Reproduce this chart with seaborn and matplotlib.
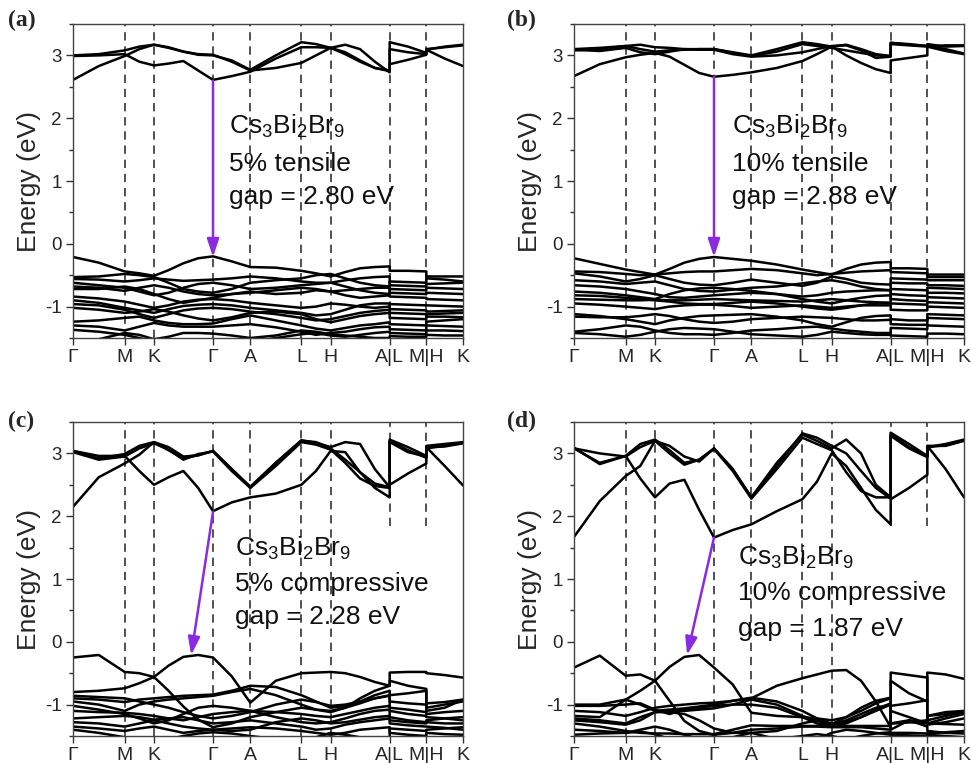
import numpy as np
import pandas as pd
import matplotlib
matplotlib.use("Agg")
import matplotlib.pyplot as plt
import seaborn as sns

# ---------------- data ----------------
# k-path node positions (fraction of path length) for every band vertex
KX = [0.0, 0.066, 0.1325, 0.17, 0.2077, 0.245, 0.283, 0.321, 0.359, 0.407, 0.4547,
      0.52, 0.5855, 0.623, 0.6607, 0.698, 0.736, 0.774, 0.812,
      0.812, 0.859, 0.906,
      0.906, 0.953, 1.0]
tick_pos = [0.0, 0.1325, 0.2077, 0.359, 0.4547, 0.5855, 0.6607, 0.812, 0.906, 1.0]
tick_lab = ["Γ", "M", "K", "Γ", "A", "L", "H", "A|L", "M|H", "K"]

# (a) 5% tensile
a_bands = {
    "c1": [2.61, 2.83, 2.99, 3.10, 3.17, 3.12, 3.06, 3.02, 3.01, 2.90, 2.76, 2.80, 2.88, 3.00, 3.12, 3.17, 3.10, 2.90, 2.73, 2.86, 2.93, 3.01, 3.09, 3.14, 3.17],
    "c2": [2.99, 3.00, 3.02, 2.90, 2.84, 2.87, 2.91, 2.76, 2.61, 2.67, 2.74, 2.95, 3.13, 3.13, 3.12, 3.02, 2.90, 2.80, 2.75, 3.10, 3.05, 3.02, 3.09, 2.95, 2.83],
    "c3": [3.00, 3.02, 3.08, 3.14, 3.17, 3.13, 3.06, 3.01, 3.00, 2.92, 2.77, 3.00, 3.21, 3.18, 3.12, 3.05, 2.92, 2.80, 2.76, 3.21, 3.14, 3.04, 3.10, 3.13, 3.16],
    "v1": [-0.21, -0.30, -0.44, -0.47, -0.51, -0.42, -0.31, -0.23, -0.20, -0.28, -0.37, -0.38, -0.43, -0.47, -0.52, -0.45, -0.39, -0.37, -0.36, -0.43, -0.43, -0.44, -0.52, -0.52, -0.52],
    "v2": [-0.53, -0.52, -0.48, -0.50, -0.53, -0.62, -0.72, -0.76, -0.78, -0.72, -0.62, -0.58, -0.55, -0.50, -0.48, -0.55, -0.62, -0.66, -0.68, -0.60, -0.61, -0.62, -0.55, -0.57, -0.60],
    "v3": [-0.56, -0.57, -0.60, -0.58, -0.55, -0.57, -0.59, -0.58, -0.57, -0.55, -0.52, -0.55, -0.60, -0.62, -0.62, -0.58, -0.55, -0.53, -0.52, -0.66, -0.67, -0.68, -0.64, -0.63, -0.62],
    "v4": [-0.62, -0.66, -0.70, -0.76, -0.82, -0.78, -0.70, -0.64, -0.62, -0.66, -0.72, -0.70, -0.66, -0.64, -0.62, -0.68, -0.74, -0.78, -0.80, -0.72, -0.73, -0.74, -0.70, -0.71, -0.72],
    "v5": [-0.72, -0.72, -0.68, -0.72, -0.80, -0.88, -0.94, -0.90, -0.86, -0.80, -0.76, -0.80, -0.78, -0.74, -0.76, -0.82, -0.86, -0.84, -0.82, -0.84, -0.85, -0.86, -0.88, -0.89, -0.90],
    "v6": [-0.84, -0.87, -0.92, -0.97, -1.02, -0.98, -0.92, -0.89, -0.88, -0.90, -0.94, -0.98, -1.02, -1.00, -0.95, -0.97, -1.00, -1.02, -1.00, -0.96, -0.97, -0.98, -0.98, -0.99, -1.00],
    "v7": [-0.90, -0.94, -1.02, -1.06, -1.10, -1.04, -0.99, -0.97, -0.96, -0.98, -1.02, -1.06, -1.10, -1.14, -1.12, -1.05, -0.98, -0.95, -0.95, -1.04, -1.05, -1.06, -1.08, -1.07, -1.06],
    "v8": [-1.02, -1.05, -1.10, -1.08, -1.04, -1.08, -1.14, -1.19, -1.22, -1.17, -1.10, -1.08, -1.12, -1.20, -1.25, -1.20, -1.15, -1.12, -1.10, -1.10, -1.11, -1.12, -1.16, -1.16, -1.17],
    "v9": [-1.24, -1.22, -1.18, -1.16, -1.22, -1.26, -1.28, -1.28, -1.27, -1.20, -1.14, -1.22, -1.30, -1.35, -1.38, -1.34, -1.30, -1.28, -1.25, -1.28, -1.29, -1.30, -1.24, -1.22, -1.20],
    "v10": [-1.30, -1.32, -1.38, -1.32, -1.26, -1.30, -1.32, -1.32, -1.32, -1.30, -1.28, -1.33, -1.40, -1.45, -1.42, -1.40, -1.36, -1.33, -1.32, -1.36, -1.37, -1.38, -1.30, -1.31, -1.32],
    "v11": [-1.37, -1.40, -1.45, -1.50, -1.56, -1.56, -1.56, -1.56, -1.56, -1.56, -1.56, -1.50, -1.44, -1.42, -1.46, -1.48, -1.45, -1.42, -1.40, -1.42, -1.43, -1.44, -1.38, -1.38, -1.39],
    "v12": [-1.56, -1.52, -1.42, -1.45, -1.52, -1.48, -1.42, -1.42, -1.43, -1.46, -1.50, -1.46, -1.38, -1.40, -1.44, -1.46, -1.48, -1.50, -1.50, -1.47, -1.48, -1.48, -1.45, -1.46, -1.46],
    "v13": [-0.68, -0.70, -0.75, -0.70, -0.66, -0.70, -0.76, -0.80, -0.82, -0.80, -0.78, -0.74, -0.70, -0.72, -0.76, -0.74, -0.72, -0.70, -0.70, -0.78, -0.79, -0.80, -0.78, -0.79, -0.80],
    "v14": [-0.96, -0.98, -1.05, -1.12, -1.18, -1.12, -1.06, -1.03, -1.02, -1.04, -1.08, -1.12, -1.18, -1.22, -1.20, -1.15, -1.10, -1.07, -1.05, -1.18, -1.19, -1.20, -1.12, -1.11, -1.10],
}

# (b) 10% tensile
b_bands = {
    "c1": [2.67, 2.86, 2.97, 3.01, 3.04, 2.98, 2.85, 2.72, 2.66, 2.69, 2.73, 2.80, 2.91, 3.02, 3.14, 3.00, 2.88, 2.78, 2.72, 2.92, 2.96, 3.00, 3.14, 3.07, 3.02],
    "c2": [3.08, 3.10, 3.15, 3.10, 3.06, 3.08, 3.09, 3.10, 3.10, 3.04, 2.99, 3.06, 3.18, 3.15, 3.12, 3.08, 3.04, 3.00, 2.99, 3.20, 3.18, 3.15, 3.14, 3.16, 3.16],
    "c3": [3.10, 3.12, 3.15, 3.17, 3.13, 3.12, 3.10, 3.10, 3.10, 3.05, 3.00, 3.10, 3.21, 3.18, 3.14, 3.17, 3.10, 3.02, 2.99, 3.20, 3.17, 3.15, 3.18, 3.14, 3.15],
    "c4": [3.09, 3.07, 3.12, 3.05, 3.02, 3.06, 3.10, 3.09, 3.09, 3.02, 2.98, 3.00, 3.05, 3.10, 3.15, 3.16, 3.08, 2.96, 2.98, 3.18, 3.16, 3.14, 3.16, 3.10, 3.03],
    "v1": [-0.23, -0.32, -0.41, -0.45, -0.49, -0.40, -0.30, -0.24, -0.21, -0.24, -0.27, -0.33, -0.41, -0.45, -0.49, -0.40, -0.33, -0.30, -0.29, -0.39, -0.39, -0.40, -0.49, -0.49, -0.49],
    "v2": [-0.44, -0.45, -0.48, -0.50, -0.49, -0.47, -0.45, -0.44, -0.44, -0.42, -0.40, -0.42, -0.47, -0.50, -0.48, -0.46, -0.44, -0.43, -0.42, -0.45, -0.46, -0.47, -0.53, -0.53, -0.53],
    "v3": [-0.47, -0.52, -0.60, -0.56, -0.50, -0.56, -0.62, -0.65, -0.66, -0.62, -0.57, -0.62, -0.67, -0.62, -0.52, -0.56, -0.62, -0.64, -0.65, -0.55, -0.56, -0.57, -0.58, -0.58, -0.58],
    "v4": [-0.58, -0.60, -0.64, -0.62, -0.60, -0.66, -0.72, -0.75, -0.76, -0.73, -0.70, -0.68, -0.63, -0.60, -0.58, -0.62, -0.68, -0.72, -0.74, -0.62, -0.63, -0.63, -0.66, -0.66, -0.67],
    "v5": [-0.66, -0.68, -0.72, -0.76, -0.80, -0.85, -0.86, -0.84, -0.82, -0.80, -0.78, -0.80, -0.84, -0.82, -0.78, -0.76, -0.75, -0.74, -0.74, -0.80, -0.82, -0.83, -0.70, -0.71, -0.72],
    "v6": [-0.76, -0.78, -0.82, -0.85, -0.88, -0.80, -0.74, -0.71, -0.70, -0.72, -0.75, -0.80, -0.88, -0.92, -0.95, -0.90, -0.86, -0.83, -0.82, -0.88, -0.90, -0.91, -0.85, -0.86, -0.87],
    "v7": [-0.88, -0.89, -0.90, -0.90, -0.89, -0.90, -0.90, -0.89, -0.88, -0.89, -0.90, -0.91, -0.92, -0.90, -0.88, -0.90, -0.92, -0.93, -0.94, -0.95, -0.96, -0.97, -0.93, -0.94, -0.95],
    "v8": [-0.95, -0.97, -1.00, -1.02, -1.04, -1.00, -0.98, -0.97, -0.97, -0.99, -1.02, -1.00, -0.98, -1.00, -1.02, -1.00, -0.98, -0.98, -0.98, -1.05, -1.06, -1.06, -1.00, -1.01, -1.02],
    "v9": [-1.12, -1.15, -1.20, -1.24, -1.28, -1.22, -1.18, -1.15, -1.14, -1.13, -1.12, -1.16, -1.22, -1.28, -1.32, -1.25, -1.18, -1.15, -1.14, -1.20, -1.22, -1.22, -1.12, -1.13, -1.14],
    "v10": [-1.16, -1.17, -1.17, -1.15, -1.12, -1.15, -1.20, -1.24, -1.26, -1.24, -1.20, -1.18, -1.16, -1.17, -1.18, -1.20, -1.22, -1.22, -1.21, -1.28, -1.29, -1.29, -1.18, -1.19, -1.20],
    "v11": [-1.40, -1.36, -1.30, -1.32, -1.38, -1.42, -1.44, -1.44, -1.45, -1.42, -1.38, -1.36, -1.33, -1.32, -1.35, -1.38, -1.40, -1.42, -1.42, -1.34, -1.35, -1.36, -1.30, -1.31, -1.32],
    "v12": [-1.42, -1.44, -1.48, -1.45, -1.40, -1.36, -1.34, -1.35, -1.36, -1.40, -1.44, -1.46, -1.48, -1.45, -1.40, -1.42, -1.44, -1.45, -1.45, -1.46, -1.47, -1.48, -1.43, -1.43, -1.44],
    "v13": [-0.82, -0.83, -0.86, -0.88, -0.90, -0.92, -0.95, -0.96, -0.96, -0.94, -0.92, -0.95, -1.00, -1.03, -1.05, -1.02, -0.98, -0.95, -0.94, -0.72, -0.73, -0.74, -0.78, -0.78, -0.79],
}

# (c) 5% compressive
c_bands = {
    "c1": [2.15, 2.62, 2.84, 2.98, 3.18, 3.10, 2.95, 2.97, 3.04, 2.75, 2.47, 2.85, 3.20, 3.18, 3.08, 2.90, 2.70, 2.52, 2.46, 2.50, 2.68, 2.84, 3.12, 3.15, 3.18],
    "c2": [3.04, 2.96, 2.96, 2.72, 2.50, 2.62, 2.72, 2.45, 2.08, 2.22, 2.30, 2.36, 2.50, 2.72, 3.04, 3.02, 2.70, 2.45, 2.30, 3.22, 3.10, 2.96, 3.10, 2.80, 2.49],
    "c3": [3.04, 2.92, 2.99, 3.12, 3.18, 3.05, 2.92, 2.97, 3.04, 2.75, 2.46, 2.85, 3.21, 3.17, 3.10, 3.18, 3.15, 2.75, 2.46, 3.20, 3.05, 2.93, 3.08, 3.12, 3.17],
    "c4": [3.02, 2.90, 2.95, 3.08, 3.16, 3.06, 2.90, 2.99, 3.03, 2.72, 2.45, 2.80, 3.18, 3.14, 3.06, 2.85, 2.60, 2.48, 2.45, 3.18, 3.02, 2.95, 3.10, 3.11, 3.16],
    "v1": [-0.25, -0.21, -0.48, -0.50, -0.56, -0.78, -1.03, -1.24, -1.36, -1.30, -1.20, -1.12, -1.05, -1.08, -1.12, -1.05, -0.90, -0.78, -0.70, -0.62, -0.70, -0.75, -1.10, -1.05, -0.92],
    "v2": [-0.80, -0.78, -0.74, -0.66, -0.56, -0.38, -0.24, -0.21, -0.25, -0.55, -0.97, -0.62, -0.50, -0.49, -0.48, -0.50, -0.56, -0.64, -0.70, -0.49, -0.48, -0.48, -0.50, -0.53, -0.57],
    "v3": [-0.90, -0.92, -0.96, -0.92, -0.90, -0.88, -0.86, -0.85, -0.84, -0.78, -0.70, -0.72, -0.85, -0.95, -1.05, -1.02, -0.95, -0.85, -0.78, -0.85, -0.82, -0.78, -1.05, -1.00, -0.95],
    "v4": [-0.95, -1.00, -1.10, -1.00, -0.95, -0.92, -0.90, -0.88, -0.86, -0.80, -0.75, -0.85, -1.00, -1.08, -1.10, -1.05, -0.98, -0.90, -0.85, -1.05, -1.08, -1.12, -1.15, -1.12, -1.10],
    "v5": [-1.02, -1.08, -1.15, -1.22, -1.30, -1.25, -1.15, -1.05, -1.02, -1.05, -1.10, -1.12, -1.15, -1.18, -1.20, -1.15, -1.10, -1.05, -1.02, -1.10, -1.15, -1.18, -1.20, -1.22, -1.25],
    "v6": [-1.10, -1.12, -1.13, -1.15, -1.18, -1.22, -1.25, -1.20, -1.15, -1.12, -1.10, -1.20, -1.28, -1.30, -1.28, -1.22, -1.15, -1.10, -1.08, -1.20, -1.25, -1.28, -1.28, -1.30, -1.30],
    "v7": [-1.22, -1.20, -1.18, -1.20, -1.24, -1.22, -1.20, -1.25, -1.30, -1.28, -1.25, -1.30, -1.35, -1.40, -1.38, -1.32, -1.28, -1.25, -1.22, -1.30, -1.33, -1.35, -1.35, -1.37, -1.40],
    "v8": [-1.35, -1.38, -1.42, -1.38, -1.35, -1.40, -1.45, -1.42, -1.40, -1.38, -1.36, -1.38, -1.42, -1.45, -1.48, -1.45, -1.40, -1.38, -1.36, -1.45, -1.48, -1.50, -1.45, -1.47, -1.48],
    "v9": [-1.40, -1.45, -1.52, -1.55, -1.55, -1.55, -1.50, -1.46, -1.44, -1.46, -1.50, -1.55, -1.55, -1.52, -1.45, -1.48, -1.52, -1.55, -1.55, -1.38, -1.40, -1.42, -1.40, -1.38, -1.36],
    "v10": [-0.86, -0.88, -0.90, -0.95, -1.00, -1.05, -1.12, -1.18, -1.22, -1.18, -1.12, -1.00, -0.92, -0.96, -1.02, -1.00, -0.95, -0.90, -0.86, -0.95, -0.98, -1.00, -0.98, -0.96, -0.92],
    "v11": [-1.28, -1.30, -1.35, -1.30, -1.25, -1.30, -1.35, -1.38, -1.40, -1.42, -1.40, -1.28, -1.22, -1.25, -1.30, -1.28, -1.24, -1.20, -1.18, -1.25, -1.28, -1.30, -1.25, -1.22, -1.20],
}

# (d) 10% compressive
d_bands = {
    "c1": [1.67, 2.24, 2.64, 2.80, 3.20, 3.12, 2.95, 2.87, 3.08, 2.75, 2.30, 2.80, 3.32, 3.25, 3.12, 3.00, 2.72, 2.45, 2.28, 3.33, 3.15, 2.96, 3.10, 3.15, 3.22],
    "c2": [3.08, 2.85, 2.96, 2.60, 2.30, 2.52, 2.58, 2.10, 1.66, 1.78, 1.87, 2.08, 2.27, 2.55, 3.00, 2.80, 2.45, 2.10, 1.87, 2.27, 2.45, 2.66, 3.12, 2.75, 2.30],
    "c3": [3.09, 2.83, 2.96, 3.15, 3.22, 3.05, 2.85, 2.90, 3.08, 2.75, 2.30, 2.85, 3.30, 3.20, 3.08, 3.22, 3.00, 2.50, 2.30, 3.30, 3.10, 2.95, 3.12, 3.12, 3.20],
    "c4": [3.08, 3.00, 2.95, 3.10, 3.20, 3.00, 2.82, 2.90, 3.07, 2.72, 2.28, 2.75, 3.25, 3.15, 3.05, 2.70, 2.40, 2.30, 2.30, 3.28, 3.08, 2.94, 3.10, 3.13, 3.21],
    "v1": [-0.41, -0.22, -0.54, -0.52, -0.62, -0.94, -1.26, -1.42, -1.48, -1.45, -1.40, -1.38, -1.35, -1.35, -1.36, -1.36, -1.36, -1.38, -1.40, -1.30, -1.25, -1.28, -1.30, -1.31, -1.32],
    "v2": [-1.00, -1.00, -0.92, -0.78, -0.62, -0.40, -0.24, -0.21, -0.41, -0.68, -1.13, -1.18, -1.20, -1.22, -1.25, -1.20, -1.10, -0.98, -0.90, -0.62, -0.82, -0.95, -0.49, -0.52, -0.59],
    "v3": [-1.10, -1.12, -1.18, -1.12, -1.05, -1.02, -1.00, -0.98, -0.97, -0.94, -0.90, -0.70, -0.58, -0.52, -0.46, -0.45, -0.62, -0.95, -1.36, -0.49, -0.53, -0.57, -1.25, -1.18, -1.12],
    "v4": [-1.18, -1.20, -0.92, -1.00, -1.10, -1.08, -1.06, -1.03, -1.00, -0.94, -0.89, -0.95, -1.10, -1.22, -1.31, -1.20, -1.05, -0.94, -0.89, -1.02, -0.98, -0.93, -1.30, -1.22, -1.15],
    "v5": [-1.25, -1.28, -1.32, -1.25, -1.12, -1.10, -1.10, -1.08, -1.06, -1.00, -0.92, -1.00, -1.18, -1.26, -1.32, -1.25, -1.15, -1.05, -1.00, -1.30, -1.28, -1.30, -1.32, -1.28, -1.22],
    "v6": [-1.30, -1.35, -1.42, -1.45, -1.46, -1.46, -1.47, -1.47, -1.47, -1.40, -1.33, -1.34, -1.34, -1.34, -1.34, -1.34, -1.34, -1.34, -1.34, -1.40, -1.25, -1.35, -1.42, -1.45, -1.46],
    "v7": [-1.40, -1.42, -1.45, -1.40, -1.35, -1.40, -1.48, -1.55, -1.58, -1.52, -1.45, -1.55, -1.60, -1.55, -1.45, -1.40, -1.42, -1.45, -1.48, -1.45, -1.45, -1.46, -1.48, -1.50, -1.52],
    "v8": [-1.48, -1.46, -1.45, -1.43, -1.47, -1.55, -1.60, -1.55, -1.50, -1.60, -1.62, -1.55, -1.50, -1.47, -1.50, -1.55, -1.50, -1.46, -1.44, -1.48, -1.49, -1.50, -1.46, -1.44, -1.42],
    "v9": [-1.22, -1.25, -1.30, -1.20, -1.12, -1.12, -1.15, -1.25, -1.38, -1.45, -1.45, -1.42, -1.30, -1.25, -1.30, -1.28, -1.20, -1.10, -1.00, -1.10, -1.20, -1.30, -1.18, -1.12, -1.10],
    "v10": [-1.02, -1.02, -1.00, -0.98, -1.08, -1.15, -1.08, -1.05, -1.02, -1.00, -1.00, -1.05, -1.20, -1.30, -1.34, -1.30, -1.20, -1.08, -0.98, -1.30, -1.28, -1.25, -1.18, -1.15, -1.12],
}

labels = ["(a)", "(b)", "(c)", "(d)"]
strain = ["5% tensile", "10% tensile", "5% compressive", "10% compressive"]
gaps = ["gap = 2.80 eV", "gap = 2.88 eV", "gap = 2.28 eV", "gap = 1.87 eV"]
# arrow (k, E) from conduction-band minimum to valence-band maximum
cbm = [(0.359, 2.60), (0.359, 2.66), (0.359, 2.07), (0.359, 1.66)]
vbm = [(0.359, -0.21), (0.359, -0.21), (0.303, -0.21), (0.290, -0.21)]
text_k = [0.40, 0.404, 0.415, 0.421]
text_E = [[1.87, 1.27, 0.74], [1.87, 1.27, 0.74], [1.48, 0.92, 0.39], [1.34, 0.77, 0.21]]

# ---------------- style ----------------
sns.set_theme(style="ticks")
plt.rcParams["font.family"] = ["Liberation Sans", "DejaVu Sans"]
plt.rcParams["mathtext.default"] = "regular"
plt.rcParams["axes.unicode_minus"] = False

W, H = 971, 763
fig = plt.figure(figsize=(W / 100, H / 100), dpi=100)

axes_px = [(73, 24), (574, 24), (73, 422), (574, 422)]
ax_w, ax_h = 390, 314
label_px = [(8, 20), (507, 20), (8, 421), (507, 421)]
purple = "#8a2be2"

for i, bands in enumerate([a_bands, b_bands, c_bands, d_bands]):
    lx, ty = axes_px[i]
    ax = fig.add_axes([lx / W, 1 - (ty + ax_h) / H, ax_w / W, ax_h / H])

    rows = []
    for name, vals in bands.items():
        for kx, e in zip(KX, vals):
            rows.append((name, kx, e))
    df = pd.DataFrame(rows, columns=["band", "k", "E"])

    # dashed high-symmetry lines
    for j, xp in enumerate(tick_pos[1:-1]):
        lbl = tick_lab[1:-1][j]
        if i >= 2 and lbl in ("A|L", "M|H"):
            ax.vlines(xp, 1.85, 3.5, colors="#333333", linestyles=(0, (5, 3.5)), lw=1.2, zorder=1)
        else:
            ax.axvline(xp, color="#333333", ls=(0, (5, 3.5)), lw=1.2, zorder=1)

    sns.lineplot(data=df, x="k", y="E", units="band", estimator=None, sort=False,
                 color="black", lw=1.8, legend=False, ax=ax, zorder=2)

    ax.annotate("", xy=vbm[i], xytext=cbm[i],
                arrowprops=dict(arrowstyle="-|>,head_length=0.6,head_width=0.2",
                                color=purple, lw=1.8, mutation_scale=18,
                                shrinkA=0, shrinkB=0), zorder=3)
    lines = [r"Cs$_3$Bi$_2$Br$_9$", strain[i], gaps[i]]
    for t, ey in zip(lines, text_E[i]):
        ax.text(text_k[i], ey, t, fontsize=19, ha="left", va="center", color="#111111", zorder=4)

    ax.set_xlim(0, 1)
    ax.set_ylim(-1.5, 3.5)
    ax.set_xticks(tick_pos)
    ax.set_xticklabels(tick_lab, fontsize=14)
    ax.set_yticks([-1, 0, 1, 2, 3])
    ax.set_yticklabels(["-1", "0", "1", "2", "3"], fontsize=13.5)
    ax.set_yticks([-1.5, -0.5, 0.5, 1.5, 2.5, 3.5], minor=True)
    ax.tick_params(axis="both", which="major", direction="out", length=5, width=1, color="#333333", pad=3)
    ax.tick_params(axis="y", which="minor", direction="out", length=3, width=1, color="#333333")
    ax.set_xlabel("")
    ax.set_ylabel("Energy (eV)", fontsize=19, labelpad=3)
    for s in ax.spines.values():
        s.set_visible(True)
        s.set_color("#444444")
        s.set_linewidth(1.0)

    fx, fy = label_px[i]
    fig.text(fx / W, 1 - fy / H, labels[i], fontsize=17, fontweight="bold",
             family=["Liberation Serif", "DejaVu Serif"], ha="left", va="center")

fig.savefig("out.png", dpi=100)
